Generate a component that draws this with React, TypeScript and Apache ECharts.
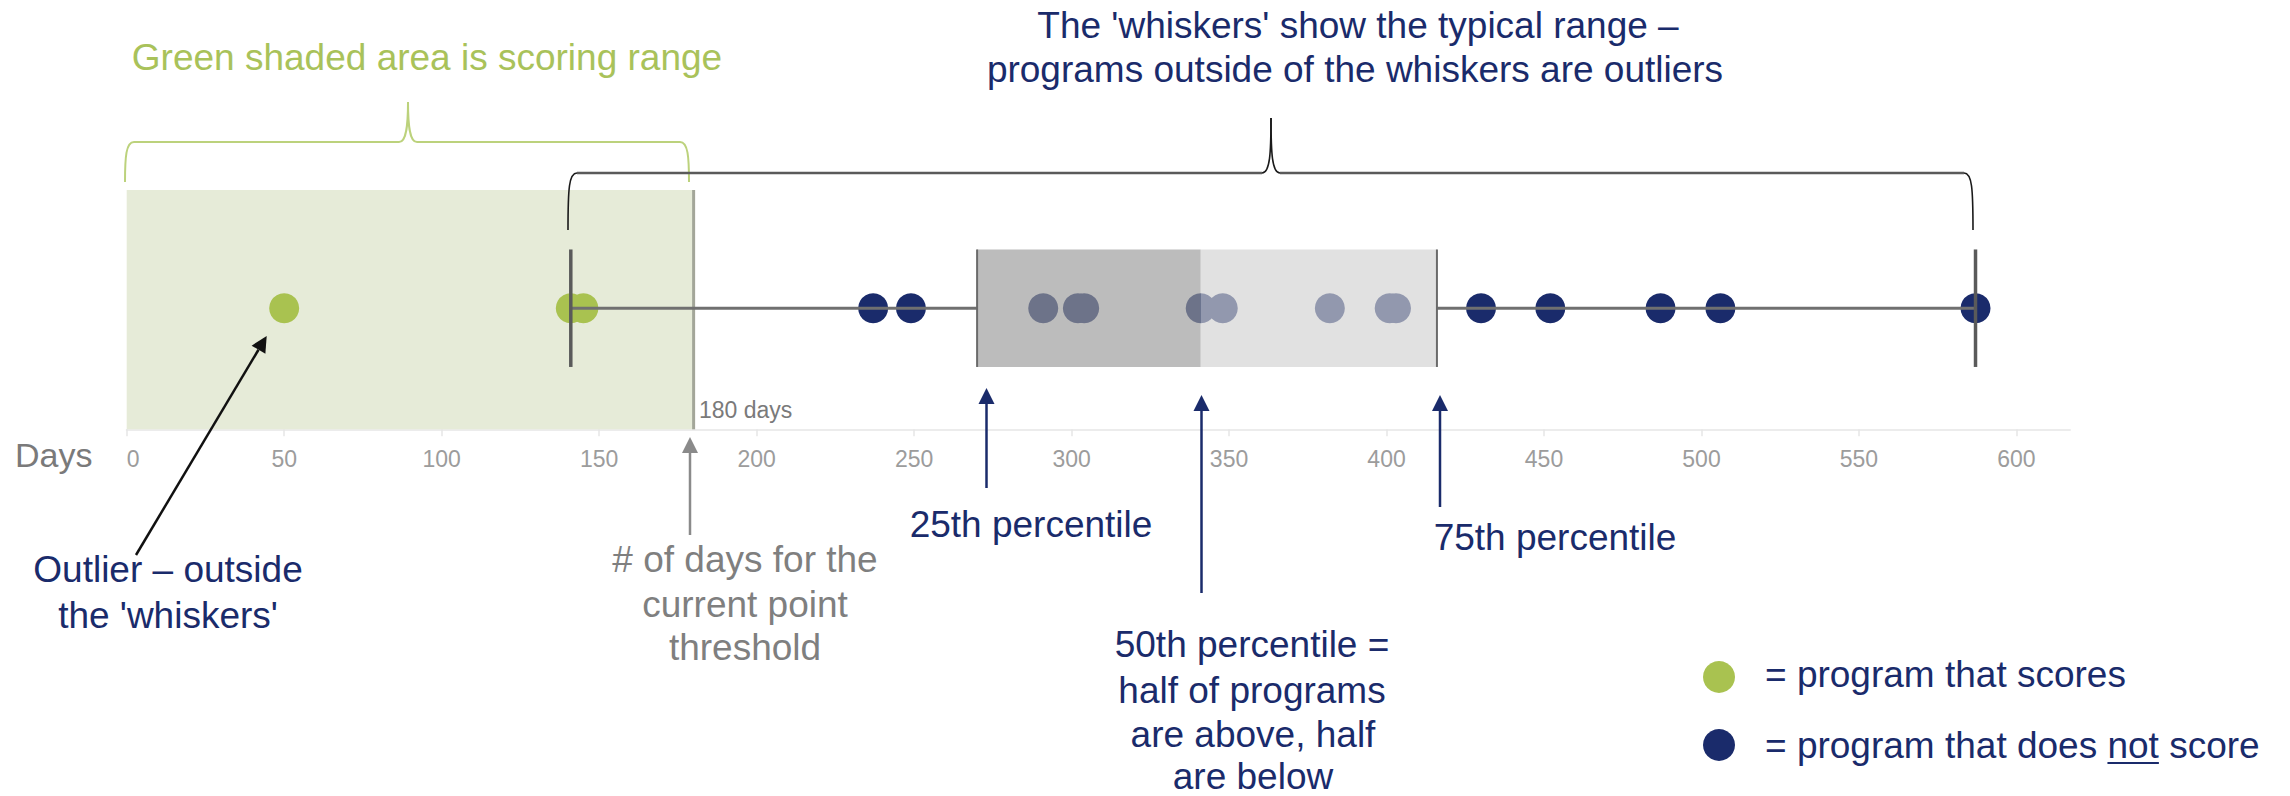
import React, { useEffect, useRef } from 'react';
import * as echarts from 'echarts';

// ---- data ----
const scoringDays = [50, 141, 145];
const nonScoringDays = [237, 249, 291, 302, 304, 341, 348, 382, 401, 403, 430, 452, 487, 506, 587];
// [lower whisker, 25th pct, median, 75th pct, upper whisker]
const boxStats = [141, 270, 341, 416, 587];
const thresholdDays = 180;
const tickValues = [0, 50, 100, 150, 200, 250, 300, 350, 400, 450, 500, 550, 600];
const axisMax = 617;

// ---- layout / style ----
const ROW_Y = 0.506;
const BOX_HALF = 0.2455;
const GREEN = '#a9c250';
const NAVY = '#1a2b6b';
const GRAY_TXT = '#7f7f7f';
const FONT = '"Liberation Sans", Arial, sans-serif';

const txt = (text: string, x: number, y: number, fill: string, fontSize = 37, align = 'center') => ({
  type: 'text',
  x,
  y,
  silent: true,
  z: 100,
  style: { text, fill, fontSize, fontFamily: FONT, align, verticalAlign: 'middle' },
});

const arrow = (x1: number, y1: number, x2: number, y2: number, color: string, lw = 2.5, headLen = 16, headW = 8) => {
  const dx = x2 - x1;
  const dy = y2 - y1;
  const L = Math.hypot(dx, dy);
  const ux = dx / L;
  const uy = dy / L;
  const bx = x2 - ux * headLen;
  const by = y2 - uy * headLen;
  const px = -uy * headW;
  const py = ux * headW;
  return [
    { type: 'line', silent: true, z: 100, shape: { x1, y1, x2: bx, y2: by }, style: { stroke: color, lineWidth: lw } },
    {
      type: 'polygon',
      silent: true,
      z: 100,
      shape: { points: [[x2, y2], [bx + px, by + py], [bx - px, by - py]] },
      style: { fill: color },
    },
  ];
};

const brace = (
  xL: number, xR: number, xc: number, y0: number, yEnd: number, yPeak: number,
  hColor: string, cColor: string, hW: number, cW: number, r = 9
) => {
  const curve = (x1: number, y1: number, cpx1: number, cpy1: number, cpx2: number, cpy2: number, x2: number, y2: number) => ({
    type: 'bezierCurve',
    silent: true,
    z: 100,
    shape: { x1, y1, cpx1, cpy1, cpx2, cpy2, x2, y2 },
    style: { stroke: cColor, lineWidth: cW, fill: 'none' },
  });
  return [
    { type: 'line', silent: true, z: 100, shape: { x1: xL + r, y1: y0, x2: xc - r, y2: y0 }, style: { stroke: hColor, lineWidth: hW } },
    { type: 'line', silent: true, z: 100, shape: { x1: xc + r, y1: y0, x2: xR - r, y2: y0 }, style: { stroke: hColor, lineWidth: hW } },
    curve(xL + r, y0, xL + 1, y0, xL, y0 + 15, xL, yEnd),
    curve(xR - r, y0, xR - 1, y0, xR, y0 + 15, xR, yEnd),
    curve(xc - r, y0, xc - 1, y0, xc, y0 - 20, xc, yPeak),
    curve(xc + r, y0, xc + 1, y0, xc, y0 - 20, xc, yPeak),
  ];
};

const measure = (s: string, size: number) => {
  const ctx = document.createElement('canvas').getContext('2d');
  if (!ctx) return s.length * size * 0.5;
  ctx.font = `${size}px "Liberation Sans", Arial, sans-serif`;
  return ctx.measureText(s).width;
};

export default function App() {
  const ref = useRef<HTMLDivElement>(null);

  useEffect(() => {
    if (!ref.current) return;
    const chart = echarts.init(ref.current, undefined, { renderer: 'svg' });

    const legendX = 1765;
    const ulStart = legendX + measure('= program that does ', 37);
    const ulEnd = ulStart + measure('not', 37);

    const graphics: any[] = [
      // titles
      txt('Green shaded area is scoring range', 427, 57, '#a9c25a'),
      txt("The 'whiskers' show the typical range \u2013", 1358, 25.5, NAVY),
      txt('programs outside of the whiskers are outliers', 1355, 69, NAVY),
      ...brace(125, 689, 408, 142, 182, 102, '#bcd27c', '#bcd27c', 2, 2),
      ...brace(568, 1973, 1271, 173, 230, 118, '#5a5a5a', '#1a1a1a', 2.5, 1.6),
      // axis labels
      txt('Days', 15, 455, '#7a7a7a', 34, 'left'),
      txt('180 days', 699, 410, '#7a7a7a', 23, 'left'),
      // annotations
      ...arrow(136, 555, 266.7, 336, '#111111', 2.5),
      txt('Outlier \u2013 outside', 168, 569, NAVY),
      txt("the 'whiskers'", 168, 615, NAVY),
      ...arrow(690, 535, 690, 437, '#8a8a8a', 2.5),
      txt('# of days for the', 745, 559, GRAY_TXT),
      txt('current point', 745, 604, GRAY_TXT),
      txt('threshold', 745, 647, GRAY_TXT),
      ...arrow(986.5, 488, 986.5, 388, NAVY, 2.5),
      txt('25th percentile', 1031, 524, NAVY),
      ...arrow(1201.5, 593, 1201.5, 395, NAVY, 2.5),
      txt('50th percentile =', 1252, 644, NAVY),
      txt('half of programs', 1252, 690, NAVY),
      txt('are above, half', 1253, 734, NAVY),
      txt('are below', 1253, 776, NAVY),
      ...arrow(1440, 507, 1440, 395, NAVY, 2.5),
      txt('75th percentile', 1555, 537, NAVY),
      // legend
      { type: 'circle', silent: true, z: 100, shape: { cx: 1719, cy: 677, r: 16 }, style: { fill: GREEN } },
      { type: 'circle', silent: true, z: 100, shape: { cx: 1719, cy: 745, r: 16 }, style: { fill: NAVY } },
      txt('= program that scores', legendX, 674, NAVY, 37, 'left'),
      txt('= program that does not score', legendX, 745, NAVY, 37, 'left'),
      { type: 'line', silent: true, z: 100, shape: { x1: ulStart, y1: 763, x2: ulEnd, y2: 763 }, style: { stroke: NAVY, lineWidth: 2 } },
    ];

    const option: any = {
      animation: false,
      backgroundColor: '#ffffff',
      grid: { left: 126.7, right: 220, top: 190, bottom: 366.7 },
      xAxis: {
        type: 'value',
        min: 0,
        max: axisMax,
        interval: 50,
        axisLine: { show: true, lineStyle: { color: '#ececec', width: 2 } },
        axisTick: { show: true, length: 7, customValues: tickValues, lineStyle: { color: '#e6e6e6', width: 1.5 } },
        axisLabel: {
          customValues: tickValues,
          fontSize: 23,
          fontFamily: FONT,
          color: '#9c9c9c',
          margin: 18,
          alignMinLabel: 'left',
          formatter: (v: number) => (v % 50 === 0 ? String(v) : ''),
        },
        splitLine: { show: false },
      },
      yAxis: { type: 'value', min: 0, max: 1, show: false, splitLine: { show: false } },
      series: [
        {
          name: 'scoring range',
          type: 'custom',
          z: 1,
          silent: true,
          data: [[0, thresholdDays]],
          encode: { x: [0, 1] },
          renderItem: (_p: any, api: any) => {
            const a = api.coord([api.value(0), 1]);
            const b = api.coord([api.value(1), 0]);
            return {
              type: 'group',
              children: [
                { type: 'rect', shape: { x: a[0], y: a[1], width: b[0] - a[0], height: b[1] - a[1] }, style: { fill: '#e6ebd8' } },
                { type: 'line', shape: { x1: b[0], y1: a[1], x2: b[0], y2: b[1] }, style: { stroke: '#a3a699', lineWidth: 3 } },
              ],
            };
          },
        },
        {
          name: 'program that scores',
          type: 'scatter',
          z: 2,
          silent: true,
          symbol: 'circle',
          symbolSize: 30,
          itemStyle: { color: GREEN, opacity: 1 },
          data: scoringDays.map((d) => [d, ROW_Y]),
        },
        {
          name: 'program that does not score',
          type: 'scatter',
          z: 2,
          silent: true,
          symbol: 'circle',
          symbolSize: 30,
          itemStyle: { color: NAVY, opacity: 1 },
          data: nonScoringDays.map((d) => [d, ROW_Y]),
        },
        {
          name: 'box',
          type: 'custom',
          z: 3,
          silent: true,
          data: [boxStats],
          encode: { x: [0, 1, 2, 3, 4] },
          renderItem: (_p: any, api: any) => {
            const xs = [0, 1, 2, 3, 4].map((i) => api.coord([api.value(i), ROW_Y])[0]);
            const yc = api.coord([0, ROW_Y])[1];
            const top = api.coord([0, ROW_Y + BOX_HALF])[1];
            const bot = api.coord([0, ROW_Y - BOX_HALF])[1];
            const [xLo, xQ1, xMed, xQ3, xHi] = xs;
            const ln = (x1: number, y1: number, x2: number, y2: number, stroke: string, lineWidth: number) => ({
              type: 'line',
              shape: { x1, y1, x2, y2 },
              style: { stroke, lineWidth },
            });
            return {
              type: 'group',
              children: [
                { type: 'rect', shape: { x: xQ1, y: top, width: xMed - xQ1, height: bot - top }, style: { fill: 'rgba(153,153,153,0.66)' } },
                { type: 'rect', shape: { x: xMed, y: top, width: xQ3 - xMed, height: bot - top }, style: { fill: 'rgba(210,210,210,0.66)' } },
                ln(xLo, yc, xQ1, yc, '#707070', 3),
                ln(xQ3, yc, xHi, yc, '#707070', 3),
                ln(xQ1, top, xQ1, bot, '#6a6a6a', 2),
                ln(xQ3, top, xQ3, bot, '#6a6a6a', 2),
                ln(xLo, top, xLo, bot, '#5a5a5a', 3.5),
                ln(xHi, top, xHi, bot, '#5a5a5a', 3.5),
              ],
            };
          },
        },
      ],
      graphic: { elements: graphics },
    };

    chart.setOption(option);
    return () => chart.dispose();
  }, []);

  return (
    <div
      ref={ref}
      style={{ position: 'fixed', left: 0, top: 0, width: 2290, height: 796, background: '#ffffff' }}
    />
  );
}
